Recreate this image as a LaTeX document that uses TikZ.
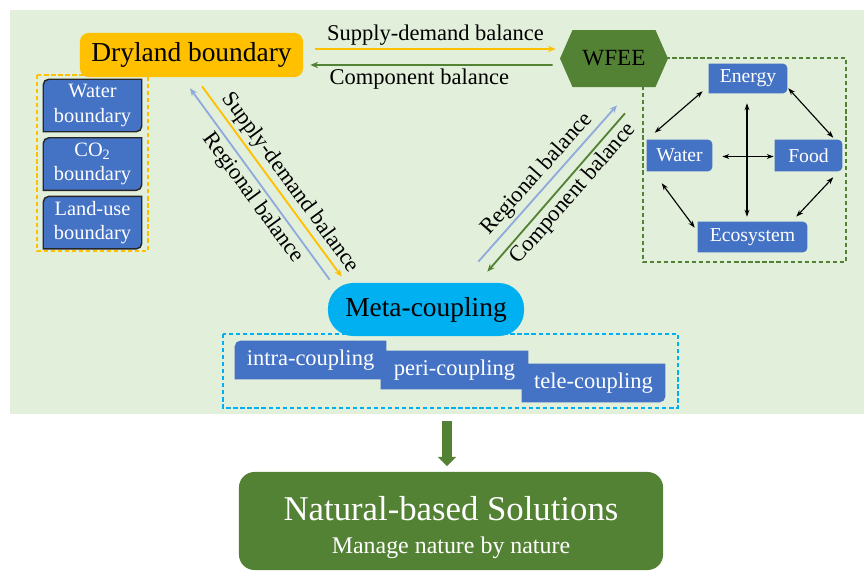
\documentclass[tikz,border=0pt]{standalone}
\usepackage{fontspec}
\setmainfont{Liberation Serif}
\usetikzlibrary{arrows.meta,positioning,calc}

\pgfdeclarelayer{background}
\pgfsetlayers{background,main}

\definecolor{panelgreen}{HTML}{E2EFDA}
\definecolor{drygold}{HTML}{FFC000}
\definecolor{nexusgreen}{HTML}{548235}
\definecolor{boxblue}{HTML}{4472C4}
\definecolor{metacyan}{HTML}{00B0F0}
\definecolor{regionblue}{HTML}{8FAADC}

\tikzset{
  % box with top-left and bottom-right corners rounded
  diagfill/.style={append after command={\pgfextra{
      \begin{pgfonlayer}{background}
        \path[#1] (\tikzlastnode.south west) -- ([yshift=-4pt]\tikzlastnode.north west)
          arc[start angle=180, end angle=90, radius=4pt] -- (\tikzlastnode.north east)
          -- ([yshift=4pt]\tikzlastnode.south east)
          arc[start angle=0, end angle=-90, radius=4pt] -- cycle;
      \end{pgfonlayer}}}},
  % box with the right corners rounded
  rightfill/.style={append after command={\pgfextra{
      \begin{pgfonlayer}{background}
        \path[#1] (\tikzlastnode.south west) -- (\tikzlastnode.north west)
          -- ([xshift=-3pt]\tikzlastnode.north east)
          arc[start angle=90, end angle=0, radius=3pt]
          -- ([yshift=3pt]\tikzlastnode.south east)
          arc[start angle=0, end angle=-90, radius=3pt] -- cycle;
      \end{pgfonlayer}}}},
  drybox/.style={fill=drygold, rounded corners=6pt, minimum width=5.575cm, minimum height=1.1cm,
    inner sep=0pt, font=\fontsize{19.5}{23}\selectfont},
  bdbox/.style={minimum width=2.45cm, minimum height=1.3cm, inner sep=0pt, text=white, align=center,
    font=\fontsize{14.5}{17.5}\selectfont, diagfill={fill=boxblue, draw=black!85, line width=1pt}},
  nexusbox/.style={inner sep=0pt, text=white, font=\fontsize{14}{17}\selectfont, rightfill={fill=boxblue}},
  couplebox/.style={inner sep=0pt, text=white, font=\fontsize{16}{19}\selectfont, diagfill={fill=boxblue}},
  wfeetext/.style={minimum width=2.7cm, minimum height=1.425cm, inner sep=0pt, font=\fontsize{16.5}{20}\selectfont},
  metabox/.style={fill=metacyan, rounded corners=18pt, minimum width=4.9cm, minimum height=1.325cm,
    inner sep=0pt, font=\fontsize{19.5}{23}\selectfont},
  nbsbox/.style={fill=nexusgreen, rounded corners=11pt, minimum width=10.6cm, minimum height=2.45cm,
    inner sep=0pt, text=white, align=center, font=\fontsize{17}{23.5}\selectfont},
  groupline/.style={dashed, dash pattern=on 3pt off 2pt, line width=1.2pt},
  balance/.style={line width=1.3pt},
  lbl/.style={text=black, inner sep=2pt, font=\fontsize{16}{19}\selectfont},
  nexusarrow/.style={<->, line width=0.8pt, >={Stealth[length=5pt,width=3.5pt]}},
  bigarrow/.style={nexusgreen, line width=7pt, -{Triangle[length=6.5pt,width=12.5pt]}, shorten >=4pt}
}

\begin{document}
\begin{tikzpicture}[x=0.025cm, y=-0.025cm, >={Stealth[length=5.5pt,width=4.5pt]}]
  \useasboundingbox (0,0) rectangle (864,572);

  % light green panel
  \begin{pgfonlayer}{background}
    \fill[panelgreen] (10,10) rectangle (864,414);
  \end{pgfonlayer}

  % dashed groups
  \draw[groupline, drygold] (37,75) rectangle (148,251);
  \draw[groupline, nexusgreen] (643,58) rectangle (846,262);
  \draw[groupline, metacyan] (223,334) rectangle (678,408);

  % Dryland boundary
  \node[drybox] (dry) at (191.5,55) {Dryland boundary};
  \node[bdbox] (water bd) at (92.5,105.5) {Water\\boundary};
  \node[bdbox, below=0.15cm of water bd] (co2 bd) {CO\textsubscript{2}\\boundary};
  \node[bdbox, below=0.15cm of co2 bd] (land bd) {Land-use\\boundary};

  % WFEE hexagon
  \fill[nexusgreen] (560,58.5) -- (572.5,30) -- (655.5,30) -- (668,58.5) -- (655.5,87) -- (572.5,87) -- cycle;
  \node[wfeetext] (wfee) at (614,58.5) {WFEE};

  % the nexus
  \node[nexusbox, minimum width=1.95cm, minimum height=0.725cm] (energy) at (748,78.5) {Energy};
  \node[nexusbox, minimum width=1.625cm, minimum height=0.775cm] (water) at (679.5,155.5) {Water};
  \node[nexusbox, minimum width=1.675cm, minimum height=0.775cm] (food) at (808.5,155.5) {Food};
  \node[nexusbox, minimum width=2.725cm, minimum height=0.75cm] (eco) at (752.5,237) {Ecosystem};

  \draw[nexusarrow] ($(energy.south west)+(-6,-2)$) -- ($(water.north west)+(8,-7)$);
  \draw[nexusarrow] ($(energy.south east)+(1,-5)$) -- ($(food.north east)+(-9,-2)$);
  \draw[nexusarrow] ($(water.south west)+(15,12)$) -- ($(eco.north west)+(-3,6)$);
  \draw[nexusarrow] ($(food.south east)+(-9,6)$) -- ($(eco.north east)+(-11,-5)$);
  \draw[nexusarrow] ($(water.east)+(10,1)$) -- ($(food.west)+(-1,1)$);
  \draw[nexusarrow] ($(energy.south)+(-1,10)$) -- ($(eco.north)+(-5.5,-5)$);

  % Meta-coupling
  \node[metabox] (meta) at (426,309.5) {Meta-coupling};
  \node[couplebox, minimum width=3.775cm, minimum height=0.95cm] (intra) at (310.5,360) {intra-coupling};
  \node[couplebox, minimum width=3.675cm, minimum height=0.95cm] (peri) at (454.5,370) {peri-coupling};
  \node[couplebox, minimum width=3.575cm, minimum height=0.95cm] (tele) at (593.5,383) {tele-coupling};

  % balances between the three
  \draw[balance, drygold, ->] ($(dry.east)+(12,-6)$) -- ($(wfee.west)+(-4,-9.5)$)
    node[midway, above, lbl] {Supply-demand balance};
  \draw[balance, nexusgreen, ->] ($(wfee.west)+(-7,6.5)$) -- ($(dry.east)+(7,10)$)
    node[pos=0.55, below, lbl] {Component balance};

  \draw[balance, regionblue, <-] ($(dry.south)+(-1.5,11)$) -- ($(meta.north west)+(2,-3)$)
    node[pos=0.53, below, sloped, lbl] {Regional balance};
  \draw[balance, drygold, ->] ($(dry.south)+(10.5,9)$) -- ($(meta.north west)+(14,-6)$)
    node[pos=0.55, above, sloped, lbl] {Supply-demand balance};

  \draw[balance, regionblue, ->] ($(meta.north east)+(-46,-21)$) -- ($(wfee.south)+(3,18)$)
    node[midway, above, sloped, lbl] {Regional balance};
  \draw[balance, nexusgreen, <-] ($(meta.north east)+(-37,-11)$) -- ($(wfee.south)+(11,26)$)
    node[pos=0.55, below, sloped, lbl] {Component balance};

  % Nature-based solutions
  \coordinate (drop) at (447,421);
  \node[nbsbox] (nbs) at (451,521)
    {\rule{0pt}{26.5pt}{\fontsize{24.7}{28}\selectfont Natural-based Solutions}\\Manage nature by nature};
  \draw[bigarrow] (drop) -- (drop |- nbs.north);
\end{tikzpicture}
\end{document}
